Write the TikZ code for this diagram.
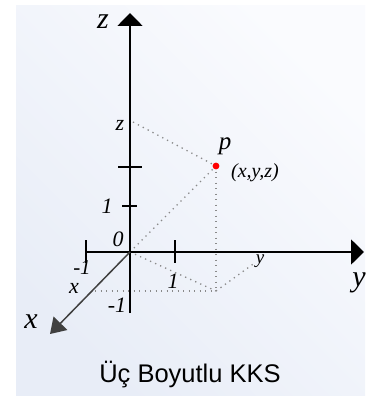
\documentclass[tikz,border=0pt]{standalone}
\usepackage{fontspec}
\setmainfont{Liberation Serif}
\newfontfamily\titlefont{Liberation Sans}
\usetikzlibrary{arrows.meta}
\definecolor{bgA}{HTML}{E8EDF7}
\definecolor{bgB}{HTML}{FAFBFE}
\definecolor{dotc}{HTML}{8A8A8A}
\begin{document}
\begin{tikzpicture}[x=1pt,y=-1pt,
  axis/.style={line width=1.8pt,black},
  tickmark/.style={line width=1.6pt,black},
  dots/.style={dotc,line width=1.3pt,dash pattern=on 1.3pt off 4.2pt},
  lbl/.style={inner sep=0pt,font=\itshape},
  tip/.style={-{Triangle[length=13pt,width=25pt]}}]
\useasboundingbox (0,0) rectangle (365,398);
\fill[white] (0,0) rectangle (365,398);
\shade[left color=bgA,right color=bgB,shading angle=135] (16,6) rectangle (365,395);
\coordinate (O) at (130,252);
\coordinate (P) at (216,166);
\coordinate (Q) at (216,291);
\coordinate (ztop) at (130,13);
\coordinate (zbot) at (130,313);
\coordinate (yleft) at (86,252);
\coordinate (yright) at (364,252);
\coordinate (xend) at (50,334);
\coordinate (zz) at (133,122);
\coordinate (xl) at (95,291);
\coordinate (yy) at (256,262);
% dotted lines
\draw[dots] (zz) -- (P);
\draw[dots] (O) -- (P);
\draw[dots] (P) -- (Q);
\draw[dots] (xl) -- (Q);
\draw[dots] (O) -- (Q);
\draw[dots] (Q) -- (yy);
% axes
\draw[axis,tip] (zbot) -- (ztop);
\draw[axis,tip] (yleft) -- (yright);
\draw[line width=1.5pt,black!75,-{Triangle[length=15pt,width=19pt]}] (O) -- (xend);
% ticks
\coordinate (t1a) at (118,167); \coordinate (t1b) at (142,167);
\coordinate (t2a) at (122,206); \coordinate (t2b) at (137,206);
\coordinate (t3a) at (86,240); \coordinate (t3b) at (86,263);
\coordinate (t4a) at (175,240); \coordinate (t4b) at (175,263);
\draw[tickmark] (t1a) -- (t1b);
\draw[tickmark] (t2a) -- (t2b);
\draw[tickmark] (t3a) -- (t3b);
\draw[tickmark] (t4a) -- (t4b);
% point
\fill[red] (P) circle (3.4pt);
% labels
\node[lbl,font=\itshape\fontsize{30}{30}\selectfont] (zlab) at (103,22) {z};
\node[lbl,font=\itshape\fontsize{22}{22}\selectfont] (zval) at (120,125) {z};
\node[lbl,font=\itshape\fontsize{25}{25}\selectfont] (plab) at (225,146) {p};
\node[lbl,font=\itshape\fontsize{20}{20}\selectfont] (coord) at (255,173) {(x,y,z)};
\node[lbl,font=\itshape\fontsize{22}{22}\selectfont] (one) at (107,206) {1};
\node[lbl,font=\itshape\fontsize{22}{22}\selectfont] (zero) at (118,239) {0};
\node[lbl,font=\itshape\fontsize{21}{21}\selectfont] (mone) at (82,268) {-1};
\node[lbl,font=\itshape\fontsize{22}{22}\selectfont] (xval) at (74,288) {x};
\node[lbl,font=\itshape\fontsize{22}{22}\selectfont] (yone) at (173,281) {1};
\node[lbl,font=\itshape\fontsize{22}{22}\selectfont] (zmone) at (117,305) {-1};
\node[lbl,font=\itshape\fontsize{19}{19}\selectfont] (yval) at (260,261) {y};
\node[lbl,font=\itshape\fontsize{30}{30}\selectfont] (ylab) at (359,283) {y};
\node[lbl,font=\itshape\fontsize{30}{30}\selectfont] (xlab) at (31,322) {x};
\node[inner sep=0pt,anchor=base,font=\titlefont\fontsize{25.5}{25.5}\selectfont] (title) at (190,382) {Üç Boyutlu KKS};
\end{tikzpicture}
\end{document}
